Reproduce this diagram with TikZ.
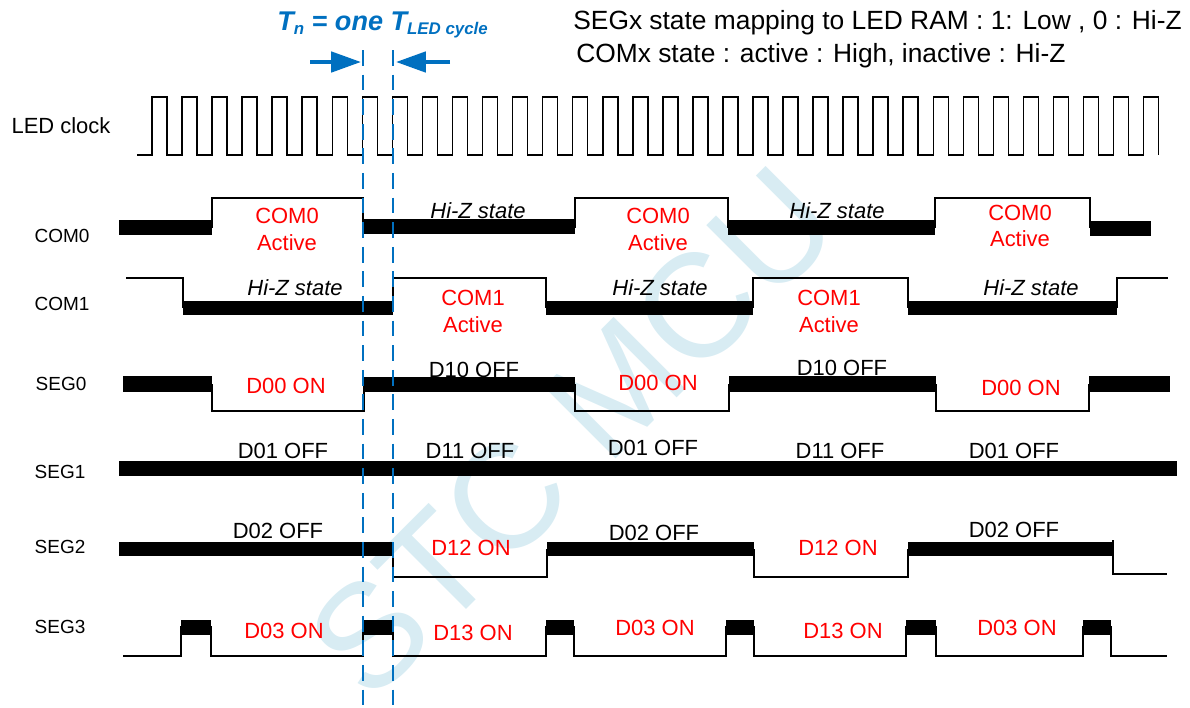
\documentclass[tikz,border=0pt]{standalone}
\usepackage{fontspec}
\setmainfont{Liberation Sans}
\usepackage{xcolor}
\usetikzlibrary{arrows.meta}

\definecolor{cycblue}{RGB}{0,112,192}
\definecolor{wmblue}{RGB}{216,236,243}

\begin{document}
\begin{tikzpicture}[
          x=0.02cm, y=-0.02cm,
          sig/.style={draw, line width=1.4pt, line join=miter},
          clk/.style={draw, line width=0.9pt},
          bus/.style={fill=black},
          signame/.style={font=\fontsize{10.8}{12}\selectfont, anchor=base, inner sep=0pt},
          lbl/.style={font=\fontsize{12.5}{14}\selectfont, anchor=base, inner sep=0pt},
          redlbl/.style={lbl, text=red},
          hiz/.style={lbl, font=\fontsize{12.5}{14}\selectfont\itshape},
          notetext/.style={font=\fontsize{15}{17}\selectfont, anchor=base west, inner sep=0pt},
          dline/.style={cycblue, line width=1.4pt, dash pattern=on 9pt off 5pt},
          tarrow/.style={cycblue, line width=2.3pt, -{Triangle[length=17pt,width=11.5pt]}}
      ]
        \useasboundingbox (0,0) rectangle (1190,707);
        % watermark
        \node[text=wmblue, font=\fontsize{84}{84}\selectfont, rotate=45] (wm) at (572,432) {STC MCU};

        % notes and title
        \node[notetext] (note1) at (573,29) {SEGx state mapping to LED RAM : 1: Low , 0 : Hi-Z};
        \node[notetext] (note2) at (576,62) {COMx state : active : High, inactive : Hi-Z};
        \node[anchor=base west, inner sep=0pt, text=cycblue, font=\fontsize{15.4}{18}\selectfont\bfseries\itshape] (title) at (277,30)
          {T\raisebox{-2.8pt}{\fontsize{9.6}{11}\selectfont n} = one T\raisebox{-2.8pt}{\fontsize{9.6}{11}\selectfont LED cycle}};

        % signal names
        \node[lbl] (nclk) at (61,133) {LED clock};
        \node[signame] (ncom0) at (62,242) {COM0};
        \node[signame] (ncom1) at (62,310) {COM1};
        \node[signame] (nseg0) at (61,390) {SEG0};
        \node[signame] (nseg1) at (60,478) {SEG1};
        \node[signame] (nseg2) at (60,553) {SEG2};
        \node[signame] (nseg3) at (60,633) {SEG3};

        % LED clock
        \draw[clk] (137,155) -- (152,155)
          \foreach \k in {0,...,33} { -- ({152+30.05*\k},155) -- ({152+30.05*\k},97) -- ({167+30.05*\k},97) -- ({167+30.05*\k},155) };

        % COM0
        \fill[bus] (119,220) rectangle (212,235);
        \draw[sig] (212,228) -- (212,198) -- (363,198) -- (363,228);
        \fill[bus] (363,219) rectangle (575,234);
        \draw[sig] (575,228) -- (575,198) -- (728,198) -- (728,228);
        \fill[bus] (728,220) rectangle (935,235);
        \draw[sig] (935,228) -- (935,198) -- (1090,198) -- (1090,228);
        \fill[bus] (1090,221) rectangle (1151,236);

        % COM1
        \draw[sig] (126,278) -- (183,278) -- (183,308);
        \fill[bus] (183,301) rectangle (393,315);
        \draw[sig] (393,308) -- (393,278) -- (546,278) -- (546,308);
        \fill[bus] (546,301) rectangle (753,315);
        \draw[sig] (753,308) -- (753,278) -- (908,278) -- (908,308);
        \fill[bus] (908,301) rectangle (1117,315);
        \draw[sig] (1117,308) -- (1117,278) -- (1168,278);

        % SEG0
        \fill[bus] (123,376) rectangle (212,392);
        \draw[sig] (212,384) -- (212,411) -- (364,411) -- (364,384);
        \fill[bus] (364,377) rectangle (575,392);
        \draw[sig] (575,384) -- (575,411) -- (729,411) -- (729,384);
        \fill[bus] (729,376) rectangle (936,392);
        \draw[sig] (936,384) -- (936,411) -- (1089,411) -- (1089,384);
        \fill[bus] (1089,376) rectangle (1170,392);

        % SEG1
        \fill[bus] (119,461) rectangle (1177,476);

        % SEG2
        \fill[bus] (119,542) rectangle (393,556);
        \draw[sig] (393,549) -- (393,577) -- (547,577) -- (547,549);
        \fill[bus] (547,542) rectangle (754,556);
        \draw[sig] (754,549) -- (754,577) -- (908,577) -- (908,549);
        \fill[bus] (908,542) rectangle (1113,556);
        \draw[sig] (1113,540) -- (1113,574) -- (1167,574);

        % SEG3
        \draw[sig] (123,656) -- (181,656) -- (181,627) -- (211,627) -- (211,656)
          -- (363,656) -- (363,627) -- (393,627) -- (393,656)
          -- (546,656) -- (546,627) -- (574,627) -- (574,656)
          -- (726,656) -- (726,627) -- (754,627) -- (754,656)
          -- (906,656) -- (906,627) -- (936,627) -- (936,656)
          -- (1083,656) -- (1083,627) -- (1111,627) -- (1111,656) -- (1167,656);
        \fill[bus] (181,620) rectangle (211,635);
        \fill[bus] (363,620) rectangle (393,635);
        \fill[bus] (546,620) rectangle (574,635);
        \fill[bus] (726,620) rectangle (754,635);
        \fill[bus] (906,620) rectangle (936,635);
        \fill[bus] (1083,620) rectangle (1111,635);

        % state labels
        \node[redlbl] (c0a) at (287,223) {COM0};
        \node[redlbl] (c0b) at (287,250) {Active};
        \node[redlbl] (c0c) at (658,223) {COM0};
        \node[redlbl] (c0d) at (658,250) {Active};
        \node[redlbl] (c0e) at (1020,220) {COM0};
        \node[redlbl] (c0f) at (1020,246) {Active};
        \node[hiz] (hz1) at (478,218) {Hi-Z state};
        \node[hiz] (hz2) at (837,218) {Hi-Z state};

        \node[redlbl] (c1a) at (473,305) {COM1};
        \node[redlbl] (c1b) at (473,332) {Active};
        \node[redlbl] (c1c) at (829,305) {COM1};
        \node[redlbl] (c1d) at (829,332) {Active};
        \node[hiz] (hz3) at (295,295) {Hi-Z state};
        \node[hiz] (hz4) at (660,295) {Hi-Z state};
        \node[hiz] (hz5) at (1031,295) {Hi-Z state};

        \node[redlbl] (d00a) at (286,393) {D00 ON};
        \node[redlbl] (d00b) at (658,390) {D00 ON};
        \node[redlbl] (d00c) at (1021,395) {D00 ON};
        \node[lbl] (d10a) at (474,377) {D10 OFF};
        \node[lbl] (d10b) at (842,375) {D10 OFF};

        \node[lbl] (d01a) at (283,458) {D01 OFF};
        \node[lbl] (d11a) at (470,458) {D11 OFF};
        \node[lbl] (d01b) at (653,455) {D01 OFF};
        \node[lbl] (d11b) at (840,458) {D11 OFF};
        \node[lbl] (d01c) at (1014,458) {D01 OFF};

        \node[lbl] (d02a) at (278,538) {D02 OFF};
        \node[redlbl] (d12a) at (471,555) {D12 ON};
        \node[lbl] (d02b) at (654,540) {D02 OFF};
        \node[redlbl] (d12b) at (838,555) {D12 ON};
        \node[lbl] (d02c) at (1014,537) {D02 OFF};

        \node[redlbl] (d03a) at (284,638) {D03 ON};
        \node[redlbl] (d13a) at (473,640) {D13 ON};
        \node[redlbl] (d03b) at (655,635) {D03 ON};
        \node[redlbl] (d13b) at (843,638) {D13 ON};
        \node[redlbl] (d03c) at (1017,635) {D03 ON};

        % one LED cycle marker
        \coordinate (m1top) at (363,50);
        \coordinate (m1bot) at (363,707);
        \coordinate (m2top) at (393,50);
        \coordinate (m2bot) at (393,707);
        \draw[dline] (m1top) -- (m1bot);
        \draw[dline] (m2top) -- (m2bot);
        \coordinate (a1tail) at (310,62);
        \coordinate (a1tip) at (361,62);
        \coordinate (a2tail) at (450,62);
        \coordinate (a2tip) at (396,62);
        \draw[tarrow] (a1tail) -- (a1tip);
        \draw[tarrow] (a2tail) -- (a2tip);
      \end{tikzpicture}
\end{document}
